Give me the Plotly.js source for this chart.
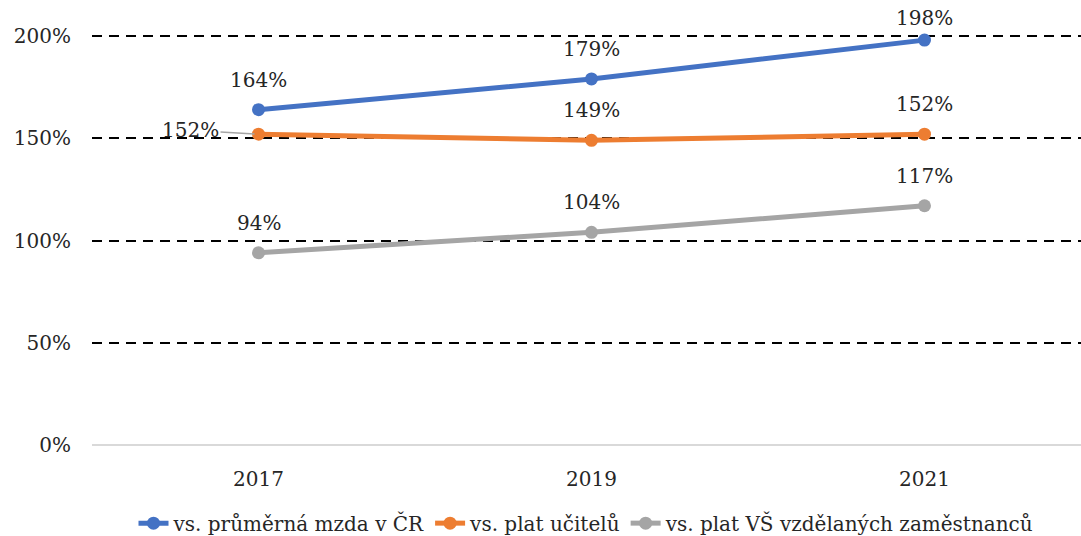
<!DOCTYPE html>
<html><head><meta charset="utf-8">
<script src="https://cdn.plot.ly/plotly-3.0.1.min.js"></script>
<style>html,body{margin:0;padding:0;background:#fff}#chart{width:1081px;height:536px}</style>
</head><body><div id="chart"></div>
<script>
const years = ['2017', '2019', '2021'];
const seriesNames = ['vs. průměrná mzda v ČR', 'vs. plat učitelů', 'vs. plat VŠ vzdělaných zaměstnanců'];
const avgWage = [164, 179, 198];
const teachers = [152, 149, 152];
const graduates = [94, 104, 117];
const colors = ['#4472C4', '#ED7D31', '#A5A5A5'];
const yTicks = [0, 50, 100, 150, 200];
const yTickLabels = ['0%', '50%', '100%', '150%', '200%'];

const FONT = '"DejaVu Serif", serif';
const allSeries = [avgWage, teachers, graduates];

const traces = allSeries.map((vals, i) => ({
  x: years, y: vals, type: 'scatter', mode: 'lines+markers', name: seriesNames[i],
  line: {color: colors[i], width: 5},
  marker: {color: colors[i], size: 13},
  cliponaxis: false
}));

const annotations = [];
allSeries.forEach((vals, i) => {
  vals.forEach((v, j) => {
    const isLeft = (i === 1 && j === 0);
    annotations.push({
      x: j, y: v, xref: 'x', yref: 'y',
      text: v + '%',
      showarrow: isLeft,
      arrowhead: 0, arrowcolor: '#A5A5A5', arrowwidth: 1.5,
      ax: isLeft ? -68 : 0, ay: isLeft ? -4 : 0,
      standoff: 4,
      yshift: isLeft ? 0 : (v > 190 ? 22 : 30),
      font: {family: FONT, size: 20, color: '#262626'}
    });
  });
});

const layout = {
  width: 1081, height: 536,
  margin: {l: 92, r: 0, t: 35, b: 91},
  paper_bgcolor: '#fff', plot_bgcolor: '#fff',
  showlegend: true,
  legend: {orientation: 'h', x: 0.5, xanchor: 'center', yref: 'container', y: 0.024, yanchor: 'middle',
    font: {family: FONT, size: 20, color: '#262626'}},
  xaxis: {type: 'category', range: [-0.5, 2.47], showgrid: false, zeroline: false, automargin: false,
    showline: false, ticks: '', ticklabelstandoff: 20,
    tickfont: {family: FONT, size: 20, color: '#262626'}},
  yaxis: {range: [0, 200.5], tickmode: 'array', tickvals: yTicks, ticktext: yTickLabels, showgrid: true,
    gridcolor: '#000', gridwidth: 2, griddash: '10px,7px', automargin: false,
    zeroline: true, zerolinecolor: '#D9D9D9', zerolinewidth: 2,
    ticks: '', ticklabelstandoff: 20, showline: false,
    tickfont: {family: FONT, size: 20, color: '#262626'}},
  annotations: annotations
};

Plotly.newPlot('chart', traces, layout, {displayModeBar: false, staticPlot: true});
</script>
</body></html>
